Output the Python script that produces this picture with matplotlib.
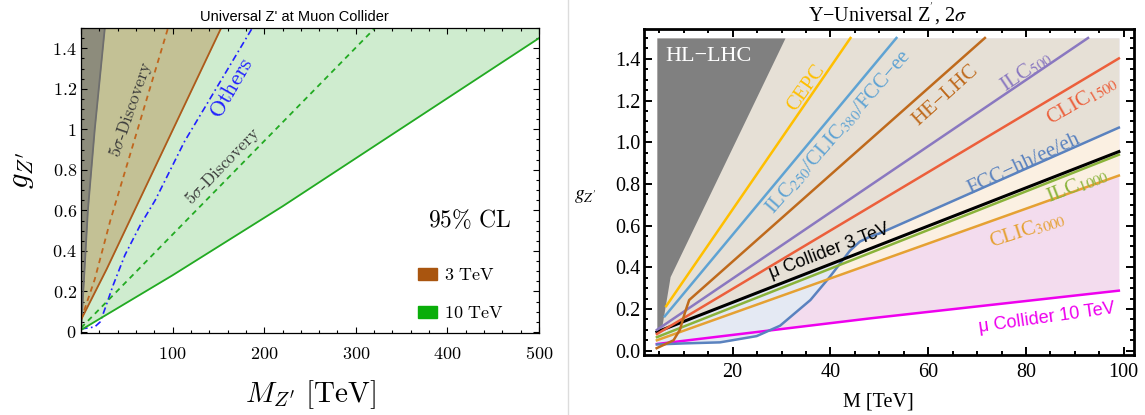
import numpy as np
import matplotlib
matplotlib.use('Agg')
import matplotlib.pyplot as plt
from matplotlib.patches import Patch
from matplotlib.lines import Line2D
from matplotlib.ticker import MultipleLocator, FixedLocator, FuncFormatter

plt.rcParams['font.family'] = ['Liberation Serif', 'DejaVu Serif']
plt.rcParams['mathtext.fontset'] = 'cm'

# ---- left panel: muon collider reach (M in TeV, g) ----
gray_M = [0, 7.5, 15, 26]
gray_g = [0.0, 0.6, 1.0, 1.5]
b3_M = [0, 28, 53.5, 153]            # 3 TeV, 95% CL
b3_g = [0.06, 0.31, 0.553, 1.5]
b3d_M = [0, 15, 32, 95]              # 3 TeV, 5 sigma
b3d_g = [0.06, 0.26, 0.55, 1.5]
oth_M = [0, 15, 21, 27, 35, 48, 65, 81, 113, 187]
oth_g = [0.015, 0.025, 0.05, 0.125, 0.23, 0.38, 0.53, 0.65, 0.94, 1.5]
g10d_M = [0, 321]                    # 10 TeV, 5 sigma
g10d_g = [0.02, 1.5]
g10_M = [0, 100, 220, 500]           # 10 TeV, 95% CL
g10_g = [0.01, 0.28, 0.62, 1.45]

# ---- right panel: Y-universal Z', 2 sigma ----
hl_M = [4.5, 5.5, 7.2, 30.7]
hl_g = [0.1, 0.115, 0.355, 1.5]
cepc_M = [6.4, 44.1]
cepc_g = [0.214, 1.5]
ilc250_M = [6.1, 53.5]
ilc250_g = [0.165, 1.5]
helhc_M = [4.45, 7.9, 9.2, 10.2, 11.1, 71.6]
helhc_g = [0.012, 0.05, 0.1, 0.18, 0.243, 1.5]
ilc500_M = [4.5, 92.7]
ilc500_g = [0.1, 1.5]
clic1500_M = [4.5, 99]
clic1500_g = [0.08, 1.402]
fcc_M = [4.5, 10, 17.4, 24.9, 29.7, 35.9, 39.9, 44, 46, 48.1, 50.1, 99]
fcc_g = [0.03, 0.035, 0.04, 0.07, 0.12, 0.243, 0.355, 0.48, 0.523, 0.547, 0.563, 1.07]
mu3_M = [4.5, 99]
mu3_g = [0.09, 0.955]
ilc1000_M = [4.5, 99]
ilc1000_g = [0.065, 0.94]
clic3000_M = [4.5, 99]
clic3000_g = [0.05, 0.84]
mu10_M = [4.5, 48.1, 99]
mu10_g = [0.032, 0.155, 0.288]

fig = plt.figure(figsize=(11.45, 4.15), dpi=100)
W, H = 1145.0, 415.0

# ================= left =================
ax1 = fig.add_axes([81 / W, 1 - 333 / H, 458 / W, 305 / H])
ax1.fill_between(g10_M, g10_g, 1.5, color='#cfeccf', lw=0)
ax1.fill_between(b3_M, b3_g, 1.5, color='#c3c195', lw=0)
ax1.fill_between(gray_M, gray_g, 1.5, color='#8d8c7c', lw=0)
ax1.plot(gray_M, gray_g, color='#6e6e6e', lw=1.3)
ax1.plot(b3_M, b3_g, color='#ad5a1a', lw=1.3)
ax1.plot(b3d_M, b3d_g, color='#c0661e', lw=1.3, dashes=(3, 2.5))
ax1.plot(oth_M, oth_g, color='#2020ff', lw=1.2, dashes=(4, 2, 1, 2))
ax1.plot(g10d_M, g10d_g, color='#22aa22', lw=1.3, dashes=(3, 2.5))
ax1.plot(g10_M, g10_g, color='#22aa22', lw=1.3)

ax1.set_xlim(0, 500)
ax1.set_ylim(-0.005, 1.5)
ax1.xaxis.set_major_locator(FixedLocator([0, 100, 200, 300, 400, 500]))
ax1.xaxis.set_minor_locator(MultipleLocator(20))
ax1.yaxis.set_major_locator(MultipleLocator(0.2))
ax1.yaxis.set_minor_locator(MultipleLocator(0.05))
ax1.xaxis.set_major_formatter(FuncFormatter(lambda v, p: '' if v == 0 else '$%g$' % v))
ax1.yaxis.set_major_formatter(FuncFormatter(lambda v, p: '$%g$' % round(v, 1)))
ax1.tick_params(which='both', direction='in', top=True, right=True, labelsize=13, width=0.8)
ax1.tick_params(which='major', length=4.5)
ax1.tick_params(which='minor', length=2.5)
ax1.tick_params(axis='x', pad=9)
ax1.tick_params(axis='y', pad=3)
for s in ax1.spines.values():
    s.set_linewidth(0.9)

fig.text(22 / W, 1 - 170 / H, r"$g_{Z'}$", fontsize=22, rotation=90, ha='center', va='center')
fig.text(310 / W, 1 - 395 / H, r"$M_{Z'}\ [\mathrm{TeV}]$", fontsize=21, ha='center', va='center')

ax1.text(54.6, 1.096, r"5$\sigma$-Discovery", rotation=71, color='#3a3a3a', fontsize=12.5,
         ha='center', va='center', family='cmr10')
ax1.text(155, 0.82, r"5$\sigma$-Discovery", rotation=46, color='#3a3a3a', fontsize=12.5,
         ha='center', va='center', family='cmr10')
ax1.text(166, 1.2, r"$\mathrm{Others}$", rotation=60, color='#2020ff', fontsize=16,
         ha='center', va='center')
ax1.text(424.5, 0.553, r"$\mathrm{95\%\ CL}$", fontsize=17, ha='center', va='center')
handles = [Patch(color='#a9550f'), Patch(color='#0aae0a')]
ax1.legend(handles, [r"$\mathrm{3\ TeV}$", r"$\mathrm{10\ TeV}$"], loc='upper left',
           bbox_to_anchor=(0.736, 0.215), frameon=False, fontsize=13,
           handlelength=1.05, handleheight=0.6, handletextpad=0.4,
           labelspacing=1.15, borderpad=0, borderaxespad=0)

fig.text(294 / W, 1 - 17 / H, "Universal Z' at Muon Collider", family='Liberation Sans',
         fontsize=10.5, ha='center', va='center')

# divider
fig.add_artist(Line2D([568 / W, 568 / W], [0, 1], color='#dcdcdc', lw=1))

# ================= right =================
ax2 = fig.add_axes([644 / W, 1 - 355 / H, 490 / W, 326 / H])
grid = np.linspace(4.5, 99, 600)
fcc_i = np.interp(grid, fcc_M, fcc_g)
mu3_i = np.interp(grid, mu3_M, mu3_g)
c3_i = np.interp(grid, clic3000_M, clic3000_g)
mu10_i = np.interp(grid, mu10_M, mu10_g)
ax2.fill_between(grid, mu10_i, 1.5, color='#f3dcee', lw=0)
ax2.fill_between(grid, fcc_i, 1.5, color='#e4e9f3', lw=0)
ax2.fill_between(grid, c3_i, fcc_i, where=fcc_i > c3_i, interpolate=True, color='#fbf0e2', lw=0)
ax2.fill_between(grid, np.maximum(fcc_i, mu3_i), 1.5, color='#e6e0d6', lw=0)
ax2.fill_between(hl_M, hl_g, 1.5, color='#808080', lw=0)

lw = 1.8
ax2.plot(mu10_M, mu10_g, color='#ee00ee', lw=lw)
ax2.plot(fcc_M, fcc_g, color='#5a82bf', lw=lw)
ax2.plot(clic3000_M, clic3000_g, color='#e5a133', lw=lw)
ax2.plot(ilc1000_M, ilc1000_g, color='#8ab33a', lw=lw)
ax2.plot(mu3_M, mu3_g, color='black', lw=2.2)
ax2.plot(clic1500_M, clic1500_g, color='#ec5f3b', lw=lw)
ax2.plot(ilc500_M, ilc500_g, color='#8a78c0', lw=lw)
ax2.plot(helhc_M, helhc_g, color='#bf6a1c', lw=lw)
ax2.plot(ilc250_M, ilc250_g, color='#5fa3d3', lw=lw)
ax2.plot(cepc_M, cepc_g, color='#ffbf00', lw=lw)

ax2.set_xlim(1.86, 102.1)
ax2.set_ylim(-0.0206, 1.543)
ax2.xaxis.set_major_locator(MultipleLocator(20))
ax2.xaxis.set_minor_locator(MultipleLocator(5))
ax2.yaxis.set_major_locator(MultipleLocator(0.2))
ax2.yaxis.set_minor_locator(MultipleLocator(0.05))
ax2.yaxis.set_major_formatter(FuncFormatter(lambda v, p: '%.1f' % v))
ax2.tick_params(which='both', direction='in', top=True, right=True, labelsize=14.5, width=1.4)
ax2.tick_params(which='major', length=5.5)
ax2.tick_params(which='minor', length=3)
ax2.tick_params(axis='x', pad=6)
ax2.tick_params(axis='y', pad=2.5)
for s in ax2.spines.values():
    s.set_linewidth(2)

kw = dict(ha='center', va='center', math_fontfamily='stix', fontsize=15)
ax2.text(15, 1.41, "HL−LHC", color='white', ha='center', va='center', fontsize=16)
ax2.text(35.0, 1.26, "CEPC", color='#ffbf00', rotation=55, **kw)
ax2.text(41.6, 1.05, r"ILC$_{250}$/CLIC$_{380}$/FCC−ee", color='#5fa3d3', rotation=49, **kw)
ax2.text(63.5, 1.225, "HE−LHC", color='#bf6a1c', rotation=42, **kw)
ax2.text(80, 1.337, r"ILC$_{500}$", color='#8a78c0', rotation=34, **kw)
ax2.text(91.4, 1.2, r"CLIC$_{1500}$", color='#ec5f3b', rotation=30, **kw)
ax2.text(79.6, 0.895, "FCC−hh/ee/eh", color='#5a82bf', rotation=25, **kw)
ax2.text(90.6, 0.79, r"ILC$_{1000}$", color='#8ab33a', rotation=21.5, **kw)
ax2.text(80.2, 0.58, r"CLIC$_{3000}$", color='#e5a133', rotation=18, **kw)
ax2.text(40.5, 0.438, "μ Collider 3 TeV", color='black', rotation=21, family='Liberation Sans',
         ha='center', va='bottom', rotation_mode='anchor', fontsize=13)
ax2.text(84.3, 0.157, "μ Collider 10 TeV", color='#ee00ee', rotation=8, family='Liberation Sans',
         ha='center', va='center', fontsize=13)

fig.text(888 / W, 1 - 14 / H, r"Y−Universal Z$^{'}$, 2$\sigma$", fontsize=14.5,
         ha='center', va='center', math_fontfamily='stix')
fig.text(878 / W, 1 - 402 / H, "M [TeV]", fontsize=14.5, ha='center', va='center')
fig.text(585 / W, 1 - 197 / H, r"$g_{Z'}$", fontsize=14, ha='center', va='center',
         math_fontfamily='stix')

fig.savefig('out.png', dpi=100)
